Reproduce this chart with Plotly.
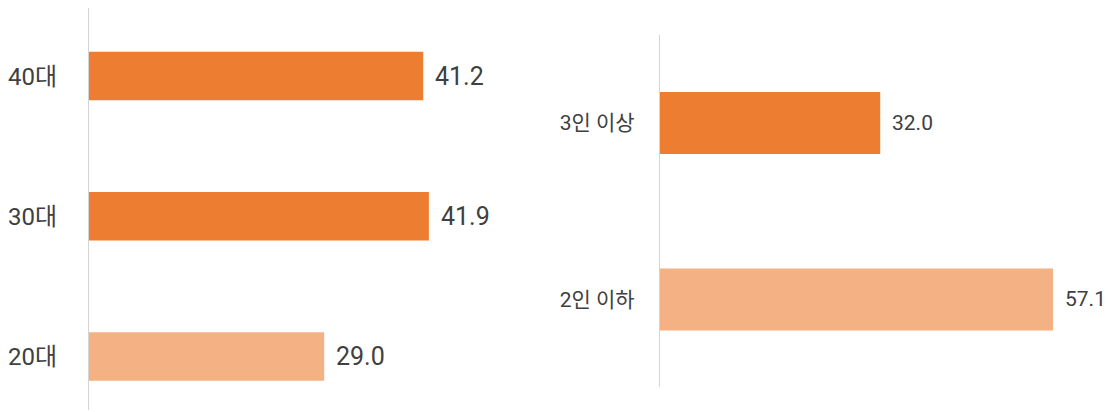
import plotly.graph_objects as go

# Left panel: age groups
age_labels = ["20대", "30대", "40대"]
age_values = [29.0, 41.9, 41.2]
age_colors = ["#F4B183", "#ED7D31", "#ED7D31"]

# Right panel: household size
hh_labels = ["2인 이하", "3인 이상"]
hh_values = [57.1, 32.0]
hh_colors = ["#F4B183", "#ED7D31"]

# page has an 8px body margin, so the figure is 8px smaller than the window
W, H = 1104, 404
TEXT = "#404040"
FONT = "Roboto, Noto Sans CJK KR, sans-serif"

fig = go.Figure()
fig.add_trace(go.Bar(
    x=age_values, y=age_labels, orientation="h",
    marker=dict(color=age_colors, line=dict(width=0)),
    width=0.346, xaxis="x", yaxis="y", hoverinfo="skip",
))
fig.add_trace(go.Bar(
    x=hh_values, y=hh_labels, orientation="h",
    marker=dict(color=hh_colors, line=dict(width=0)),
    width=0.351, xaxis="x2", yaxis="y2", hoverinfo="skip",
))

annotations = []
for lab, v in zip(age_labels, age_values):
    annotations.append(dict(
        x=v, y=lab, xref="x", yref="y", text=f"{v:.1f}",
        showarrow=False, xanchor="left", yanchor="middle", xshift=10,
        font=dict(family=FONT, size=25, color=TEXT),
    ))
for lab, v in zip(hh_labels, hh_values):
    annotations.append(dict(
        x=v, y=lab, xref="x2", yref="y2", text=f"{v:.1f}",
        showarrow=False, xanchor="left", yanchor="middle", xshift=10,
        font=dict(family=FONT, size=21, color=TEXT),
    ))

fig.update_layout(
    width=W, height=H,
    margin=dict(l=0, r=0, t=0, b=0),
    paper_bgcolor="white", plot_bgcolor="white",
    showlegend=False,
    font=dict(family=FONT, color=TEXT),
    annotations=annotations,
    xaxis=dict(domain=[79 / W, (79 + 50 * 8.13) / W], range=[0, 50],
               showgrid=False, zeroline=False, showticklabels=False, showline=False),
    yaxis=dict(domain=[1 - 402 / H, 1], range=[-0.382, 2.486],
               type="category", categoryorder="array", categoryarray=age_labels,
               showgrid=False, zeroline=False, showline=True,
               linecolor="#d4d4d4", linewidth=1, ticks="",
               ticklabelstandoff=26,
               tickfont=dict(family=FONT, size=24, color=TEXT)),
    xaxis2=dict(domain=[651 / W, (651 + 60 * 6.9) / W], range=[0, 60],
                anchor="y2",
                showgrid=False, zeroline=False, showticklabels=False, showline=False),
    yaxis2=dict(domain=[1 - 379 / H, 1 - 27 / H], range=[-0.496, 1.499],
                anchor="x2",
                type="category", categoryorder="array", categoryarray=hh_labels,
                showgrid=False, zeroline=False, showline=True,
                linecolor="#d4d4d4", linewidth=1, ticks="",
                ticklabelstandoff=20,
                tickfont=dict(family=FONT, size=21, color=TEXT)),
)

fig.write_html("out.html")
